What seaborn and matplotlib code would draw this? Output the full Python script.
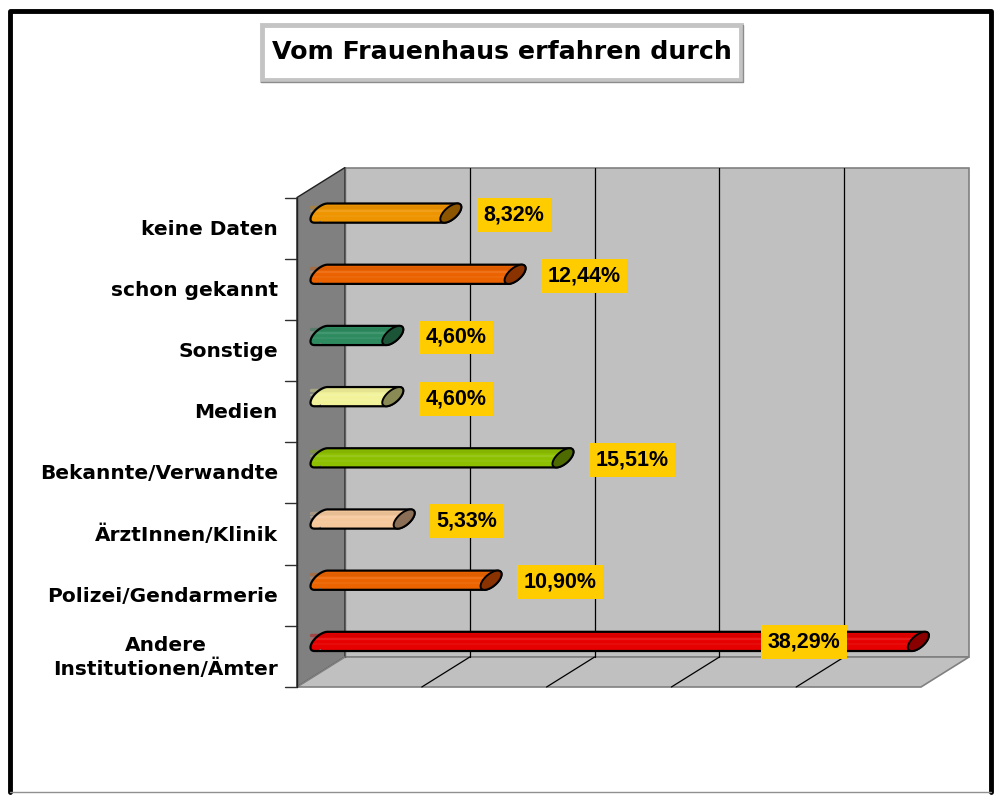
"""Vom Frauenhaus erfahren durch - 3D-style cylinder bar chart."""

import matplotlib

matplotlib.use("Agg")

import matplotlib.pyplot as plt
import numpy as np
import pandas as pd
import seaborn as sns
from matplotlib.colors import to_rgb
from matplotlib.lines import Line2D
from matplotlib.patches import Polygon, Rectangle
from matplotlib.transforms import IdentityTransform

categories = [
    "keine Daten",
    "schon gekannt",
    "Sonstige",
    "Medien",
    "Bekannte/Verwandte",
    "ÄrztInnen/Klinik",
    "Polizei/Gendarmerie",
    "Andere\nInstitutionen/Ämter",
]
shares = [8.32, 12.44, 4.60, 4.60, 15.51, 5.33, 10.90, 38.29]
value_labels = ["8,32%", "12,44%", "4,60%", "4,60%", "15,51%", "5,33%", "10,90%", "38,29%"]
body_colors = ["#EE9400", "#EB6200", "#2E8B60", "#F2F29A", "#8DC000", "#F5C89C", "#EB6400", "#E60000"]
cap_colors = ["#8C5500", "#8B3300", "#1C5438", "#8A8A55", "#4E6B00", "#8A6E55", "#8B3300", "#8A0000"]
title = "Vom Frauenhaus erfahren durch"
axis_max = 40
grid_step = 8

W, H = 994, 795
DEPTH = np.array([24.0, 15.0])  # half of the 3D depth, pixels (right, up)
A = 7.5  # vertical semi axis of the cylinder cross-section, pixels
U = np.array([10.5, 6.0])  # depth semi axis of the cross-section on screen, pixels
T1 = np.arctan2(U[1], A)

sns.set_theme(style="white")
plt.rcParams["font.family"] = ["DejaVu Sans"]

fig = plt.figure(figsize=(W / 100, H / 100), dpi=100)
fig.patch.set_facecolor("white")
ax = fig.add_axes([321 / W, (H - 672) / H, 624 / W, 489.5 / H])

frame = pd.DataFrame({"category": categories, "share": shares})
sns.barplot(
    data=frame,
    x="share",
    y="category",
    hue="category",
    palette=body_colors,
    orient="h",
    width=0.31,
    saturation=1,
    legend=False,
    ax=ax,
)
ax.set_xlim(0, axis_max)
ax.set_ylim(len(categories) - 0.5, -0.5)
ax.set_axis_off()
bars = sorted(ax.patches, key=lambda p: p.get_y())


def proj(v, c, depth=0.0):
    x, y = ax.transData.transform((v, c))
    return np.array([x, y]) + depth * DEPTH


def add_poly(points, **kw):
    patch = Polygon(np.asarray(points), closed=True, transform=IdentityTransform(), clip_on=False, **kw)
    ax.add_patch(patch)
    return patch


def add_line(p0, p1, **kw):
    line = Line2D([p0[0], p1[0]], [p0[1], p1[1]], transform=IdentityTransform(), clip_on=False, **kw)
    ax.add_line(line)
    return line


def ellipse_pts(center, t):
    return center + np.column_stack([U[0] * np.sin(t), A * np.cos(t) + U[1] * np.sin(t)])


def shade(color, amount):
    rgb = np.array(to_rgb(color))
    if amount >= 0:
        return tuple(rgb + (1 - rgb) * amount)
    return tuple(rgb * (1 + amount))


top, bottom = -0.5, len(categories) - 0.5

# walls and floor
add_poly([proj(0, top, 1), proj(axis_max, top, 1), proj(axis_max, bottom, 1), proj(0, bottom, 1)],
         facecolor="#C0C0C0", edgecolor="#808080", lw=1.2, zorder=0.1)
add_poly([proj(0, top, -1), proj(0, top, 1), proj(0, bottom, 1), proj(0, bottom, -1)],
         facecolor="#808080", edgecolor="#202020", lw=1.0, zorder=0.2)
add_poly([proj(0, bottom, -1), proj(0, bottom, 1), proj(axis_max, bottom, 1), proj(axis_max, bottom, -1)],
         facecolor="#C0C0C0", edgecolor="#808080", lw=1.2, zorder=0.2)
for g in np.arange(grid_step, axis_max, grid_step):
    add_line(proj(g, top, 1), proj(g, bottom, 1), color="black", lw=0.9, zorder=0.3)
    add_line(proj(g, bottom, 1), proj(g, bottom, -1), color="black", lw=0.9, zorder=0.3)
add_line(proj(0, top, 1), proj(0, bottom, 1), color="#606060", lw=1.0, zorder=0.3)

# category ticks and labels on the front edge
for k in range(len(categories) + 1):
    p = proj(0, k - 0.5, -1)
    add_line(p - np.array([12, 0]), p, color="#303030", lw=1.0, zorder=0.4)
add_line(proj(0, top, -1), proj(0, bottom, -1), color="#202020", lw=1.0, zorder=0.4)
for i, name in enumerate(categories):
    p = proj(0, i, -1)
    ax.text(p[0] - 19, p[1] - 1, name, transform=IdentityTransform(), ha="right", va="center",
            multialignment="center", linespacing=1.25, fontsize=14.5, fontweight="bold", color="black")

# cylinders
for i, bar in enumerate(bars):
    yc = bar.get_y() + bar.get_height() / 2
    lc = proj(0, yc)
    rc = proj(bar.get_width(), yc)
    hull_pts = np.vstack([
        ellipse_pts(rc, np.linspace(T1, T1 + np.pi, 40)),
        ellipse_pts(lc, np.linspace(T1 + np.pi, T1 + 2 * np.pi, 40)),
    ])
    clip = Polygon(hull_pts, closed=True, transform=IdentityTransform())
    add_poly(ellipse_pts(lc, np.linspace(0, 2 * np.pi, 60)), facecolor=body_colors[i], edgecolor="none", zorder=1.9)
    bar.set_edgecolor("none")
    bar.set_zorder(2)
    bar.set_clip_path(clip)
    for dy, amount, lw, alpha in [(6.5, -0.12, 2.5, 0.45), (2.0, 0.3, 1.6, 0.35), (-3.0, 0.2, 1.2, 0.3)]:
        ln = add_line(lc + np.array([-10, dy]), rc + np.array([0, dy]), color=shade(body_colors[i], amount),
                      lw=lw, alpha=alpha, zorder=2.05)
        ln.set_clip_path(clip)
    add_poly(hull_pts, facecolor="none", edgecolor="black", lw=1.6, zorder=2.1)
    add_poly(ellipse_pts(rc, np.linspace(0, 2 * np.pi, 60)), facecolor=cap_colors[i],
             edgecolor="black", lw=1.4, zorder=2.2)

    if shares[i] > 30:
        pos, ha = rc + np.array([-114, -1]), "center"
    else:
        pos, ha = rc + np.array([U[0] + 22, -2]), "left"
    ax.text(pos[0], pos[1], value_labels[i], transform=IdentityTransform(), ha=ha, va="center",
            fontsize=15.5, fontweight="bold", family="Liberation Sans", color="black", zorder=3,
            bbox=dict(boxstyle="square,pad=0.3", facecolor="#FFCC00", edgecolor="none"))

# title box
fig.add_artist(Rectangle((262 / W, 1 - 80 / H), 479 / W, 55 / H, transform=fig.transFigure,
                         facecolor="white", edgecolor="#C4C4C4", lw=3.5))
fig.add_artist(Line2D([743 / W, 743 / W, 261 / W], [1 - 25 / H, 1 - 82 / H, 1 - 82 / H],
                      transform=fig.transFigure, color="#8C8C8C", lw=1.0))
fig.text(502 / W, 1 - 52 / H, title, ha="center", va="center", fontsize=18.2, fontweight="bold", color="black")

# outer frame
fig.add_artist(Line2D([10 / W, 10 / W, 991 / W, 991 / W], [1 - 792 / H, 1 - 11 / H, 1 - 11 / H, 1 - 792 / H],
                      transform=fig.transFigure, color="black", lw=3.5))
fig.add_artist(Line2D([10 / W, 991 / W], [1 - 792 / H, 1 - 792 / H], transform=fig.transFigure,
                      color="#909090", lw=1.0))

fig.savefig("out.png", dpi=100)
